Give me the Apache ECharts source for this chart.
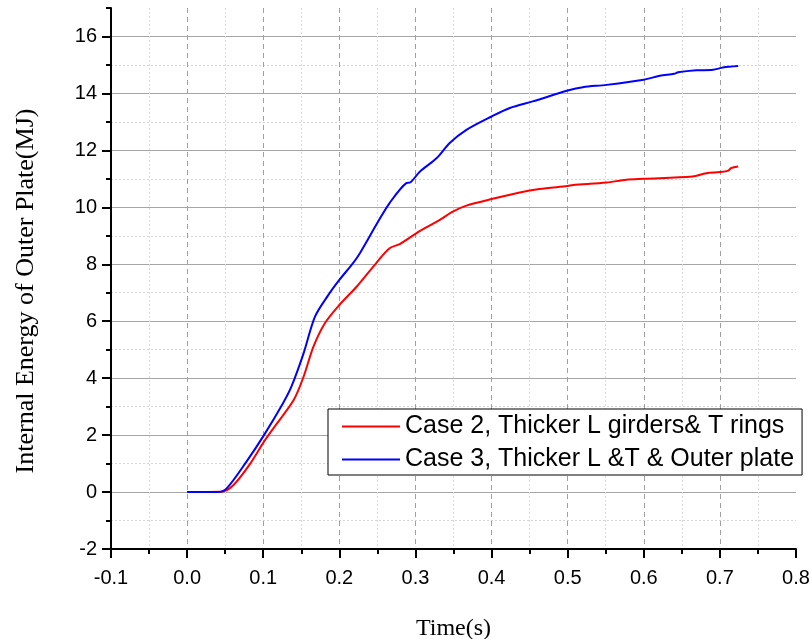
<!DOCTYPE html>
<html>
<head>
<meta charset="utf-8">
<script src="https://cdn.jsdelivr.net/npm/echarts@6/dist/echarts.min.js"></script>
<style>
  html, body { margin: 0; padding: 0; background: #fff; }
  #chart { width: 812px; height: 639px; }
</style>
</head>
<body>
<div id="chart"></div>
<script>
// time (s) and internal energy (MJ)
var timeCase2 = [0, 0.045, 0.061, 0.083, 0.101, 0.115, 0.14, 0.153, 0.166, 0.181, 0.2, 0.223, 0.249, 0.266, 0.28, 0.3, 0.31, 0.332, 0.349, 0.367, 0.4, 0.437, 0.463, 0.5, 0.507, 0.551, 0.577, 0.6, 0.664, 0.682, 0.7, 0.711, 0.715, 0.724];
var energyCase2 = [0, 0.01, 0.25, 1.0, 1.77, 2.3, 3.23, 4.05, 5.11, 5.93, 6.57, 7.22, 8.06, 8.56, 8.72, 9.07, 9.23, 9.56, 9.85, 10.06, 10.29, 10.52, 10.64, 10.75, 10.78, 10.87, 10.97, 11.0, 11.08, 11.2, 11.24, 11.29, 11.38, 11.43];

var timeCase3 = [0, 0.04, 0.052, 0.078, 0.101, 0.126, 0.137, 0.153, 0.168, 0.185, 0.2, 0.218, 0.227, 0.251, 0.266, 0.288, 0.293, 0.306, 0.328, 0.345, 0.367, 0.4, 0.424, 0.454, 0.5, 0.52, 0.551, 0.6, 0.621, 0.64, 0.645, 0.669, 0.691, 0.704, 0.724];
var energyCase3 = [0, 0, 0.13, 1.07, 2.0, 3.12, 3.7, 4.87, 6.16, 6.9, 7.45, 8.04, 8.39, 9.5, 10.15, 10.85, 10.87, 11.26, 11.73, 12.26, 12.72, 13.19, 13.49, 13.72, 14.1, 14.22, 14.3, 14.48, 14.62, 14.69, 14.74, 14.81, 14.83, 14.91, 14.96];

var seriesNames = ['Case 2, Thicker L girders& T rings', 'Case 3, Thicker L &T & Outer plate'];
var yMajorTicks = [-2, 0, 2, 4, 6, 8, 10, 12, 14, 16];

function pairs(xs, ys) {
  return xs.map(function (x, i) { return [x, ys[i]]; });
}

var chart = echarts.init(document.getElementById('chart'));

// major horizontal lines solid, the one at the top edge hidden
var majorColors = yMajorTicks.map(function () { return '#a6a6a6'; });
majorColors.push('rgba(0,0,0,0)');
// dotted lines only at odd values (minor axis has interval 1 from -2 to 17)
var minorColors = [];
for (var v = -2; v <= 17; v++) {
  minorColors.push((Math.abs(v) % 2 === 1 && v !== 17) ? '#d4d4d4' : 'rgba(0,0,0,0)');
}
// vertical dashed lines, none at 0.8
var xColors = [];
for (var k = 0; k < 9; k++) xColors.push('#a0a0a0');
xColors.push('rgba(0,0,0,0)');

var axisFont = { fontFamily: 'Liberation Sans, Arial', fontSize: 20, color: '#000' };
var titleFont = { fontFamily: 'Liberation Serif, Times New Roman', fontSize: 24, color: '#000' };

var option = {
  backgroundColor: '#fff',
  animation: false,
  grid: { left: 111, right: 16, top: 8, bottom: 90, containLabel: false, outerBoundsMode: 'none' },
  legend: {
    orient: 'vertical',
    left: 328,
    top: 409,
    padding: [5, 8, 3, 14],
    itemGap: 8,
    itemWidth: 58,
    itemHeight: 2,
    icon: 'rect',
    backgroundColor: '#fff',
    borderColor: '#000',
    borderWidth: 1,
    borderRadius: 0,
    textStyle: { fontFamily: 'Liberation Sans, Arial', fontSize: 25, lineHeight: 25, color: '#000' },
    data: seriesNames
  },
  xAxis: {
    type: 'value',
    min: -0.1,
    max: 0.8,
    interval: 0.1,
    name: 'Time(s)',
    nameLocation: 'middle',
    nameGap: 68,
    nameTextStyle: titleFont,
    axisLine: { show: true, onZero: false, lineStyle: { color: '#000', width: 2 } },
    axisTick: { show: true, length: 9, lineStyle: { color: '#000', width: 2 } },
    minorTick: { show: true, splitNumber: 2, length: 5, lineStyle: { color: '#000', width: 2 } },
    axisLabel: Object.assign({ margin: 19, formatter: function (v) { return v.toFixed(1); } }, axisFont),
    splitLine: { show: true, lineStyle: { color: xColors, type: [5, 4], width: 1 } },
    minorSplitLine: { show: true, lineStyle: { color: '#dcdcdc', type: [2, 2], width: 1 } }
  },
  yAxis: [{
    type: 'value',
    min: -2,
    max: 17,
    interval: 2,
    position: 'left',
    name: 'Internal Energy of Outer Plate(MJ)',
    nameLocation: 'middle',
    nameGap: 72,
    nameTextStyle: Object.assign({}, titleFont, { fontSize: 26, padding: [0, 25, 0, 0] }),
    axisLine: { show: true, onZero: false, lineStyle: { color: '#000', width: 2 } },
    axisTick: { show: true, length: 9, customValues: yMajorTicks, lineStyle: { color: '#000', width: 2 } },
    axisLabel: Object.assign({ margin: 14, customValues: yMajorTicks }, axisFont),
    splitLine: { show: true, lineStyle: { color: majorColors, width: 1 } }
  }, {
    type: 'value',
    min: -2,
    max: 17,
    interval: 1,
    position: 'left',
    offset: 0,
    axisLine: { show: false, onZero: false },
    axisTick: { show: true, length: 5, lineStyle: { color: '#000', width: 2 } },
    axisLabel: { show: false },
    splitLine: { show: true, lineStyle: { color: minorColors, type: [2, 2], width: 1 } }
  }],
  series: [{
    name: seriesNames[0],
    type: 'line',
    symbol: 'none',
    smooth: 0.3,
    yAxisIndex: 0,
    lineStyle: { color: '#ff0000', width: 2 },
    itemStyle: { color: '#ff0000' },
    data: pairs(timeCase2, energyCase2)
  }, {
    name: seriesNames[1],
    type: 'line',
    symbol: 'none',
    smooth: 0.3,
    yAxisIndex: 0,
    lineStyle: { color: '#0000ff', width: 2 },
    itemStyle: { color: '#0000ff' },
    data: pairs(timeCase3, energyCase3)
  }]
};

chart.setOption(option);
</script>
</body>
</html>
